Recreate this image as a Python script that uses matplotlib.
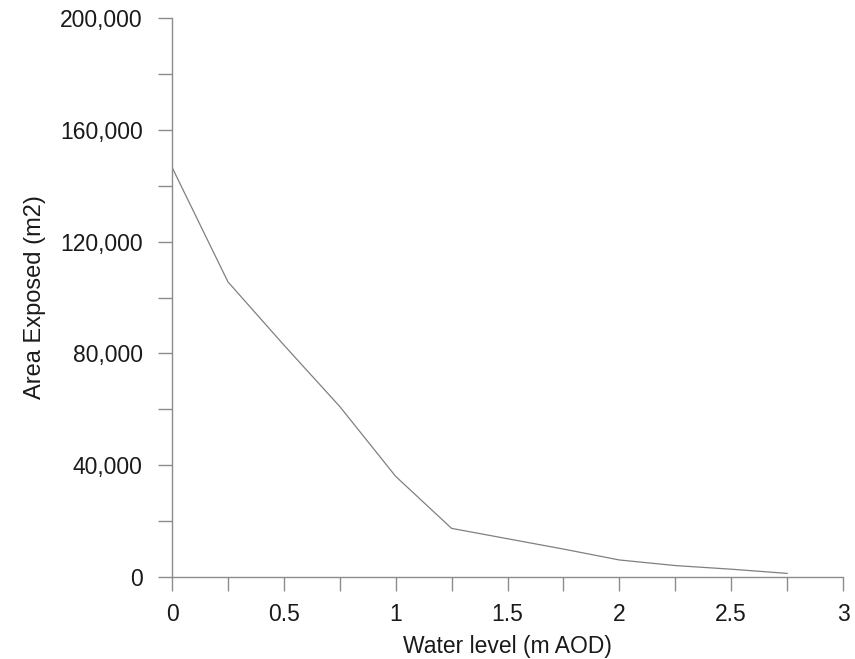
import matplotlib.pyplot as plt
from matplotlib.ticker import FuncFormatter, MultipleLocator

plt.rcParams['font.family'] = ['Liberation Sans', 'DejaVu Sans']

# water level (m AOD) vs area exposed (m2)
water_level = [0, 0.25, 0.5, 0.75, 1.0, 1.25, 1.5, 1.75, 2.0, 2.25, 2.5, 2.75]
area_exposed = [146600, 105600, 83000, 61000, 36000, 17400, 13700, 10000,
                6100, 4100, 2800, 1300]

GREY = '#8c8c8c'
FS = 16.5

def thousands(v, pos=0):
    return "{:,.0f}".format(v)

def plain(v, pos=0):
    return "%g" % v

fig = plt.figure(figsize=(8.55, 6.59), dpi=100)
ax = fig.add_axes([0.2012, 0.1244, 0.7848, 0.8483])

ax.plot(water_level, area_exposed, color='#808080', linewidth=0.9)

ax.set_xlim(0, 3)
ax.set_ylim(0, 200000)

# labelled ticks plus unlabelled in-between ticks of the same length
ax.xaxis.set_major_locator(MultipleLocator(0.5))
ax.xaxis.set_minor_locator(MultipleLocator(0.25))
ax.yaxis.set_major_locator(MultipleLocator(40000))
ax.yaxis.set_minor_locator(MultipleLocator(20000))
ax.xaxis.set_major_formatter(FuncFormatter(plain))
ax.yaxis.set_major_formatter(FuncFormatter(thousands))

for which in ('major', 'minor'):
    ax.tick_params(axis='both', which=which, direction='out', length=10,
                   width=1, color=GREY, labelsize=FS, labelcolor='#1a1a1a')
ax.tick_params(axis='x', which='major', pad=9)
ax.tick_params(axis='y', which='major', pad=11)

for side in ('top', 'right'):
    ax.spines[side].set_visible(False)
for side in ('left', 'bottom'):
    ax.spines[side].set_color(GREY)
    ax.spines[side].set_linewidth(1)

ax.set_xlabel("Water level (m AOD)", fontsize=FS, color='#1a1a1a', labelpad=6)
ax.set_ylabel("Area Exposed (m2)", fontsize=17, color='#1a1a1a', labelpad=10)

plt.savefig("out.png", dpi=100)
